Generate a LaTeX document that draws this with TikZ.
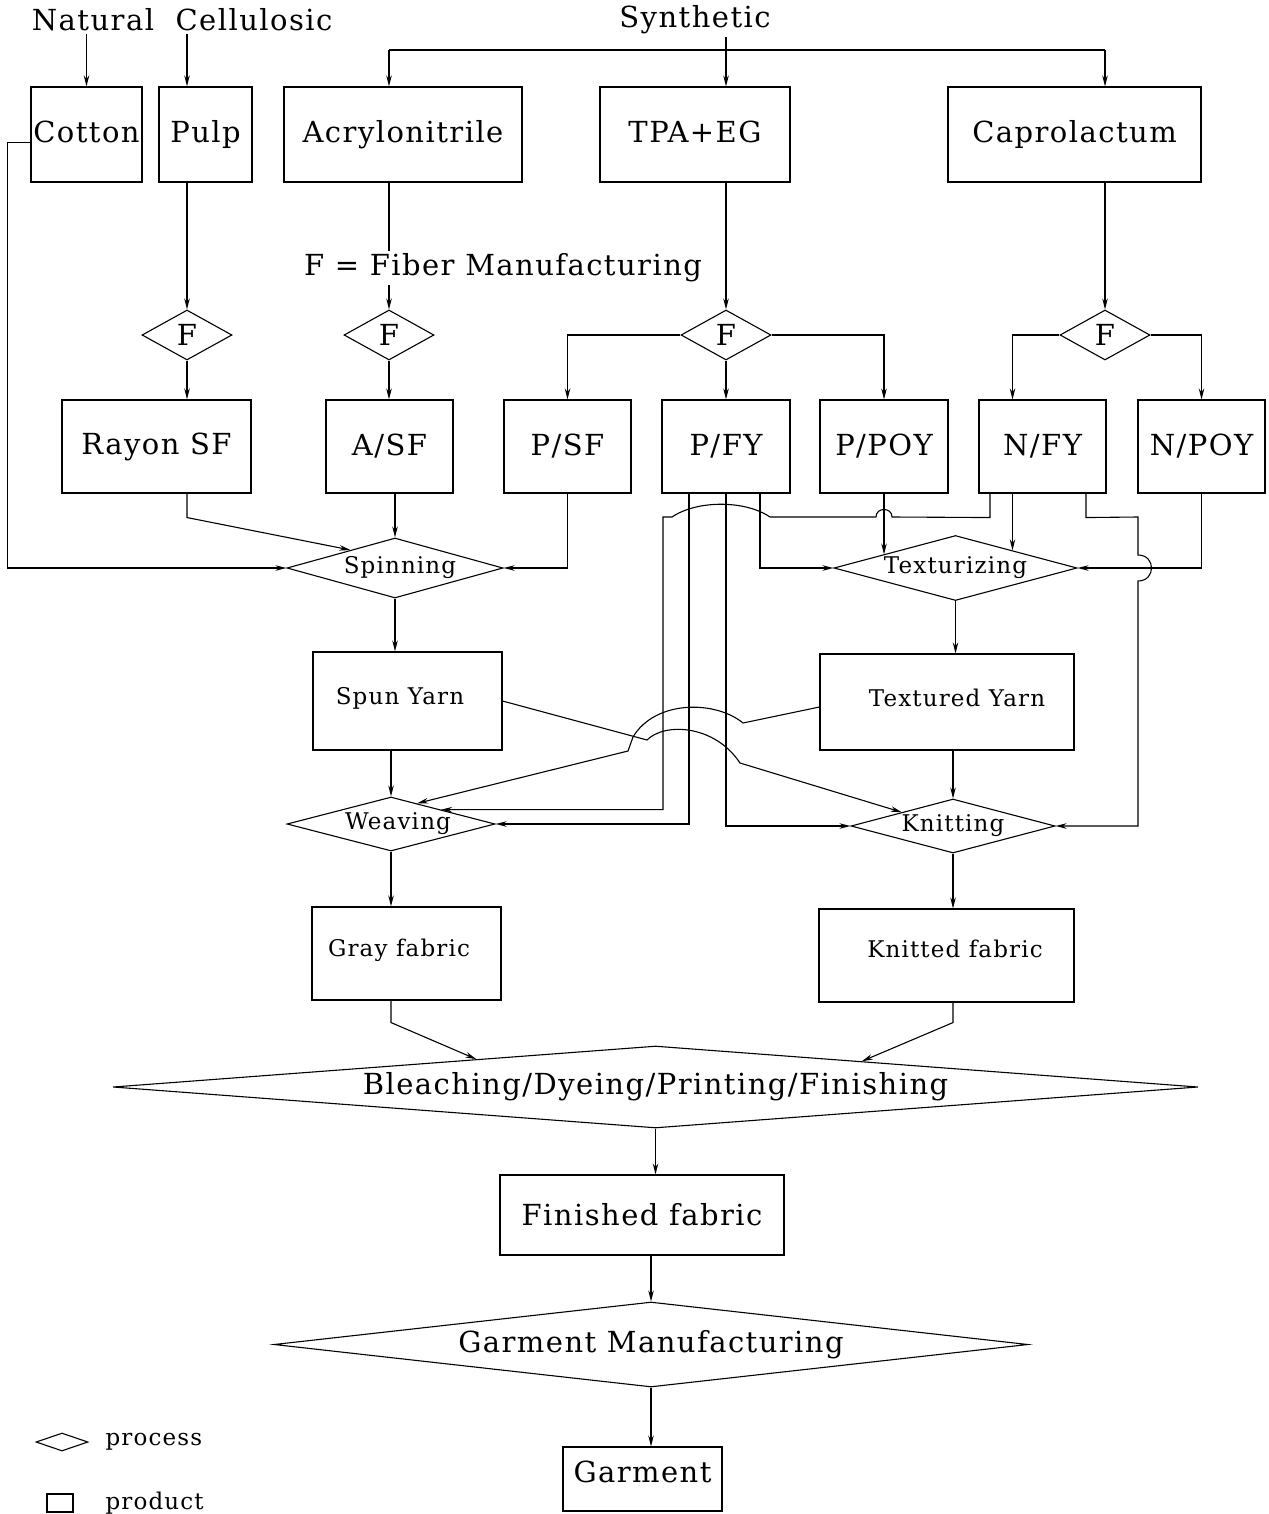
\documentclass[tikz,border=0pt]{standalone}
\usepackage{fontspec}
\newfontfamily\plotfont{DejaVu Serif}[LetterSpace=5]
\usetikzlibrary{shapes.geometric,arrows.meta,calc}
\begin{document}
\begin{tikzpicture}[x=1pt,y=-1pt,
  line width=1.1pt,
  arr/.style={-{Stealth[length=11pt,width=5.5pt]}},
  bigtxt/.style={font=\plotfont\fontsize{29}{31}\selectfont},
  midtxt/.style={font=\plotfont\fontsize{23}{25}\selectfont},
  prod/.style={draw, rectangle, inner sep=0pt},
  proc/.style={draw, diamond, inner sep=0pt},
  lbl/.style={inner sep=2pt},
]
\useasboundingbox (0,0) rectangle (1268,1514);

% ---- raw material headings ----
\node[bigtxt,lbl] (nat) at (93,20) {Natural};
\node[bigtxt,lbl] (cel) at (254,20) {Cellulosic};
\node[bigtxt,lbl] (syn) at (695,20) {Synthetic};

% ---- raw materials ----
\node[prod,bigtxt,minimum width=111,minimum height=95] (cot)  at (86.5,134.5) {\raisebox{6pt}{Cotton}};
\node[prod,bigtxt,minimum width=93, minimum height=95] (pulp) at (205.5,134.5) {\raisebox{6pt}{Pulp}};
\node[prod,bigtxt,minimum width=238,minimum height=95] (acr)  at (403,134.5) {\raisebox{6pt}{Acrylonitrile}};
\node[prod,bigtxt,minimum width=190,minimum height=95] (tpa)  at (695,134.5) {\raisebox{6pt}{TPA+EG}};
\node[prod,bigtxt,minimum width=253,minimum height=95] (cap)  at (1074.5,134.5) {\raisebox{6pt}{Caprolactum}};

% ---- fibre manufacturing ----
\node[proc,bigtxt,minimum width=90,minimum height=50,aspect=1.8] (f1) at (187,335) {F};
\node[proc,bigtxt,minimum width=90,minimum height=50,aspect=1.8] (f2) at (389,335) {F};
\node[proc,bigtxt,minimum width=90,minimum height=50,aspect=1.8] (f3) at (726,335) {F};
\node[proc,bigtxt,minimum width=90,minimum height=50,aspect=1.8] (f4) at (1105,335) {F};

% ---- fibres ----
\node[prod,bigtxt,minimum width=189,minimum height=93] (ray)  at (156.5,446.5) {Rayon SF};
\node[prod,bigtxt,minimum width=127,minimum height=93] (asf)  at (389.5,446.5) {A/SF};
\node[prod,bigtxt,minimum width=127,minimum height=93] (psf)  at (567.5,446.5) {P/SF};
\node[prod,bigtxt,minimum width=128,minimum height=93] (pfy)  at (726,446.5) {P/FY};
\node[prod,bigtxt,minimum width=128,minimum height=93] (ppoy) at (884,446.5) {P/POY};
\node[prod,bigtxt,minimum width=127,minimum height=93] (nfy)  at (1042.5,446.5) {N/FY};
\node[prod,bigtxt,minimum width=127,minimum height=93] (npoy) at (1201.5,446.5) {N/POY};

% ---- yarn making ----
\node[proc,midtxt,minimum width=216,minimum height=60,aspect=3.6] (spin) at (395,568) {\hspace*{10pt}Spinning};
\node[proc,midtxt,minimum width=243,minimum height=65,aspect=3.74] (tex) at (955.5,568) {Texturizing};
\node[prod,midtxt,minimum width=189,minimum height=98] (spy) at (407.5,701) {\hspace*{-15pt}\raisebox{11pt}{Spun Yarn}};
\node[prod,midtxt,minimum width=254,minimum height=96] (txy) at (947,702) {\hspace*{20pt}\raisebox{9pt}{Textured Yarn}};

% ---- fabric making ----
\node[proc,midtxt,minimum width=208,minimum height=54,aspect=3.85] (weave) at (391,824) {\hspace*{14pt}Weaving};
\node[proc,midtxt,minimum width=204,minimum height=54,aspect=3.78] (knit) at (953,826) {Knitting};
\node[prod,midtxt,minimum width=189,minimum height=93] (gray) at (406.5,953.5) {\hspace*{-15pt}\raisebox{12pt}{Gray fabric}};
\node[prod,midtxt,minimum width=255,minimum height=93] (knf) at (946.5,955.5) {\hspace*{17pt}\raisebox{14pt}{Knitted fabric}};

% ---- wet processing and garments ----
\node[proc,bigtxt,minimum width=1085,minimum height=82,aspect=13.2] (bl) at (655.5,1087) {Bleaching/Dyeing/Printing/Finishing};
\node[prod,bigtxt,minimum width=284,minimum height=80] (fin) at (642,1215) {Finished fabric};
\node[proc,bigtxt,minimum width=754,minimum height=85,aspect=8.87] (gm) at (651,1344.5) {Garment Manufacturing};
\node[prod,bigtxt,minimum width=159,minimum height=64] (gar) at (642.5,1479) {\raisebox{14pt}{Garment}};

% ---- legend ----
\node[proc,minimum width=52,minimum height=18,aspect=2.9] (lgd) at (62,1442) {};
\node[midtxt,lbl,anchor=west] (lgdt) at (103,1442) {process};
\node[prod,minimum width=26,minimum height=18] (lgr) at (60,1503) {};
\node[midtxt,lbl,anchor=west] (lgrt) at (103,1503) {product};

% ---- sources to raw materials ----
\draw[arr] (cot.north |- nat.south) -- (cot.north);
\draw[arr] (f1.north |- cel.south) -- (f1.north |- pulp.north);
\coordinate (sl) at (f2 |- 0,50);
\coordinate (sr) at (f4 |- 0,50);
\draw (sl) -- (sr);
\draw[arr] (sl) -- (sl |- acr.north);
\draw[arr] (sr) -- (sr |- cap.north);
\draw[arr] (f3.north |- syn.south) -- (f3.north |- tpa.north);

% ---- raw materials to fibre manufacturing ----
\draw[arr] (f1.north |- pulp.south) -- (f1.north);
\draw[arr] (f2.north |- acr.south) -- (f2.north);
\draw[arr] (f3.north |- tpa.south) -- (f3.north);
\draw[arr] (f4.north |- cap.south) -- (f4.north);
\node[bigtxt,fill=white,inner sep=3pt] (flab) at (503,268) {F = Fiber Manufacturing};

% ---- fibre manufacturing to fibres ----
\draw[arr] (f1.south) -- (f1.south |- ray.north);
\draw[arr] (f2.south) -- (f2.south |- asf.north);
\draw[arr] (f3.west) -| (psf.north);
\draw[arr] (f3.south) -- (pfy.north);
\draw[arr] (f3.east) -| (ppoy.north);
\draw[arr] (f4.west) -| ([xshift=-30pt]nfy.north);
\draw[arr] (f4.east) -| (npoy.north);

% ---- spinning ----
\draw[arr] ([yshift=-8pt]cot.west) -- ++(-23,0) |- (spin.west);
\draw[arr] (f1.south |- ray.south) -- ++(0,24) -- (spin.158);
\draw[arr] (spin.north |- asf.south) -- (spin.north);
\draw[arr] (psf.south) |- (spin.east);
\draw[arr] (spin.south) -- (spin.south |- spy.north);

% ---- texturizing ----
\draw[arr] ([xshift=34pt]pfy.south) |- (tex.west);
\coordinate (tpoy) at ($(tex.west)!0.41!(tex.north)$);
\draw[arr] (ppoy.south) -- (ppoy.south |- tpoy);
\coordinate (tnfy) at ($(tex.north)!0.465!(tex.east)$);
\coordinate (nfyb) at ([xshift=-30pt]nfy.south);
\draw[arr] (nfyb) -- (nfyb |- tnfy);
\draw[arr] (npoy.south) |- (tex.east);
\draw[arr] (tex.south) -- (tex.south |- txy.north);

% ---- N/FY to weaving, hopping over the crossed lines ----
\coordinate (nw0) at ([xshift=-52.5pt]nfy.south);
\coordinate (ew1) at ($(weave.north)!0.48!(weave.east)$);
\draw[arr] (nw0) -- ++(0,24) -- (892,517)
  .. controls (892,507) and (876,507) .. (876,517) -- (770,517)
  .. controls (745,500) and (697,500) .. (672,517) -- (663,517) |- (ew1);

% ---- P/FY to weaving and knitting ----
\draw[arr] ([xshift=-37pt]pfy.south) |- (weave.east);
\draw[arr] (pfy.south) |- (knit.west);

% ---- yarns crossing to the other fabric process ----
\coordinate (ew2) at ($(weave.north)!0.25!(weave.east)$);
\draw[arr] ([yshift=-5pt]txy.west) -- (743,723)
  .. controls (715,700) and (655,700) .. (633,737) -- (628,751) -- (ew2);
\coordinate (ek) at ($(knit.west)!0.5!(knit.north)$);
\draw[arr] (spy.east) -- (647,740)
  .. controls (665,722) and (715,725) .. (740,763) -- (ek);

% ---- N/FY to knitting, hopping over the N/POY line ----
\coordinate (nk0) at ([xshift=43.5pt]nfy.south);
\draw[arr] (nk0) -- ++(0,24) -- (1138,517) -- (1138,555)
  .. controls (1156,555) and (1156,581) .. (1138,581) |- (knit.east);

% ---- fabric making ----
\draw[arr] (weave.north |- spy.south) -- (weave.north);
\draw[arr] (knit.north |- txy.south) -- (knit.north);
\draw[arr] (weave.south) -- (weave.south |- gray.north);
\draw[arr] (knit.south) -- (knit.south |- knf.north);

% ---- wet processing and garment ----
\coordinate (eb1) at ($(bl.west)!0.67!(bl.north)$);
\coordinate (eb2) at ($(bl.north)!0.38!(bl.east)$);
\draw[arr] (weave.south |- gray.south) -- ++(0,22) -- (eb1);
\draw[arr] (knit.south |- knf.south) -- ++(0,20) -- (eb2);
\draw[arr] (bl.south) -- (bl.south |- fin.north);
\draw[arr] (gm.north |- fin.south) -- (gm.north);
\draw[arr] (gm.south) -- (gm.south |- gar.north);
\end{tikzpicture}
\end{document}
